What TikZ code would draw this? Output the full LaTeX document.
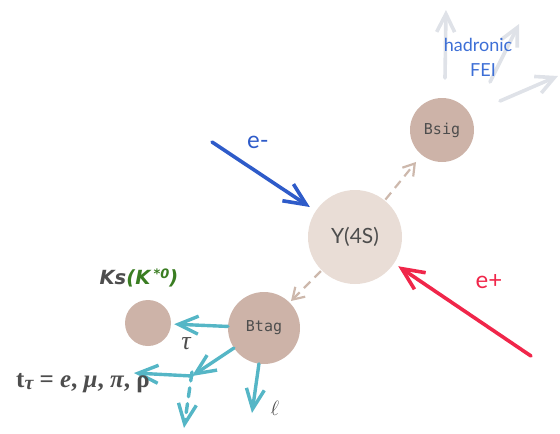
\documentclass[tikz,border=0pt]{standalone}
\usepackage{fontspec}
\usetikzlibrary{arrows.meta}
\newfontfamily\handfont{Lato}
\newfontfamily\monofont{DejaVu Sans Mono}
\newfontfamily\tagfont{DejaVu Sans}
\newfontfamily\serifsym{Liberation Serif}

\definecolor{paleball}{HTML}{E9DDD6}
\definecolor{roseball}{HTML}{CDB3A8}
\definecolor{dashcol}{HTML}{CDB8AC}
\definecolor{beamblue}{HTML}{2E5BC9}
\definecolor{beamred}{HTML}{F0264A}
\definecolor{decayteal}{HTML}{55B6C6}
\definecolor{fadegray}{HTML}{DFE2E8}
\definecolor{feiblue}{HTML}{3D6FD6}
\definecolor{kgreen}{HTML}{3A7D22}
\definecolor{inkgray}{HTML}{4D4D4D}

\tikzset{
  ball/.style={circle, draw=none, inner sep=0pt, text=inkgray},
  beam/.style={line width=3.6pt, line cap=round,
    -{Straight Barb[length=22pt,width=20pt,line width=3.6pt]}},
  daughter/.style={line width=3.4pt, line cap=round, draw=decayteal,
    -{Straight Barb[length=20pt,width=18pt,line width=3.4pt]}},
  dashlink/.style={line width=2.2pt, draw=dashcol, dash pattern=on 9pt off 6pt,
    -{Straight Barb[length=11pt,width=14pt,line width=2.2pt]}},
  faint/.style={line width=3.6pt, line cap=round, draw=fadegray,
    -{Straight Barb[length=18pt,width=18pt,line width=3.6pt]}},
  handtext/.style={font=\handfont\fontsize{18}{20}\selectfont},
  beamtext/.style={font=\handfont\fontsize{24}{26}\selectfont},
  sym/.style={text=inkgray, inner sep=0pt}
}

\begin{document}
\begin{tikzpicture}[x=1pt,y=-1pt]
\useasboundingbox (0,0) rectangle (560,434);

% particles
\node[ball, fill=paleball, minimum size=94pt, font=\handfont\fontsize{21}{23}\selectfont] (ups) at (355,237) {Y(4S)};
\node[ball, fill=roseball, minimum size=64pt, font=\monofont\fontsize{15}{17}\selectfont] (bsig) at (442,130) {Bsig};
\node[ball, fill=roseball, minimum size=72pt, font=\monofont\fontsize{15}{17}\selectfont] (btag) at (264,328) {Btag};
\node[ball, fill=roseball, minimum size=46pt] (ks) at (148,323) {};

% hadronic FEI fan above Bsig
\coordinate (f1s) at (445,78);  \coordinate (f1e) at (446,10);
\coordinate (f2s) at (490,82);  \coordinate (f2e) at (519,24);
\coordinate (f3s) at (500,101); \coordinate (f3e) at (558,76);
\draw[faint] (f1s) -- (f1e);
\draw[faint] (f2s) -- (f2e);
\draw[faint] (f3s) -- (f3e);
\node[handtext, text=feiblue] (had) at (478,45) {hadronic};
\node[handtext, text=feiblue] (fei) at (483,70) {FEI};

% colliding beams
\coordinate (em) at (212,142);
\coordinate (ep) at (531,356);
\draw[beam, draw=beamblue] (em) -- (ups) [shorten >=7pt];
\draw[beam, draw=beamred] (ep) -- (ups) [shorten >=5pt];
\node[beamtext, text=beamblue] (emlab) at (258,142) {e-};
\node[beamtext, text=beamred] (eplab) at (489,282) {e+};

% Y(4S) -> B pair
\draw[dashlink, shorten >=9pt, shorten <=1pt] (ups) -- (bsig);
\draw[dashlink, shorten >=2pt, shorten <=1pt] (ups) -- (btag);

% Btag decay products
\coordinate (split) at (192,376);
\coordinate (tauend) at (134,373);
\coordinate (nuend) at (184,428);
\coordinate (lend) at (252,413);
\draw[daughter, shorten >=3pt] (btag) -- (ks);
\draw[daughter] (btag) -- (split);
\draw[daughter] (split) -- (tauend);
\draw[daughter, dash pattern=on 9pt off 7pt] ([yshift=4pt]split) -- (nuend);
\draw[daughter] (btag) -- (lend);

% labels
\node[sym, font=\serifsym\itshape\fontsize{26}{28}\selectfont] (taulab) at (186,344) {τ};
\node[sym, font=\fontsize{22}{24}\selectfont] (ellab) at (275,408) {$\ell$};
\node[sym, font=\tagfont\bfseries\itshape\fontsize{19.5}{22}\selectfont] (kslab) at (139,278)
  {Ks\textcolor{kgreen}{(K\,\raisebox{6pt}{\fontsize{13}{13}\selectfont *0})}};
\node[sym, anchor=west, font=\serifsym\bfseries\fontsize{25}{28}\selectfont] (tlab) at (16,383)
  {t\raisebox{-2pt}{\itshape\fontsize{20}{20}\selectfont τ} = \textit{e}, \textit{μ}, \textit{π}, ρ};
\end{tikzpicture}
\end{document}
